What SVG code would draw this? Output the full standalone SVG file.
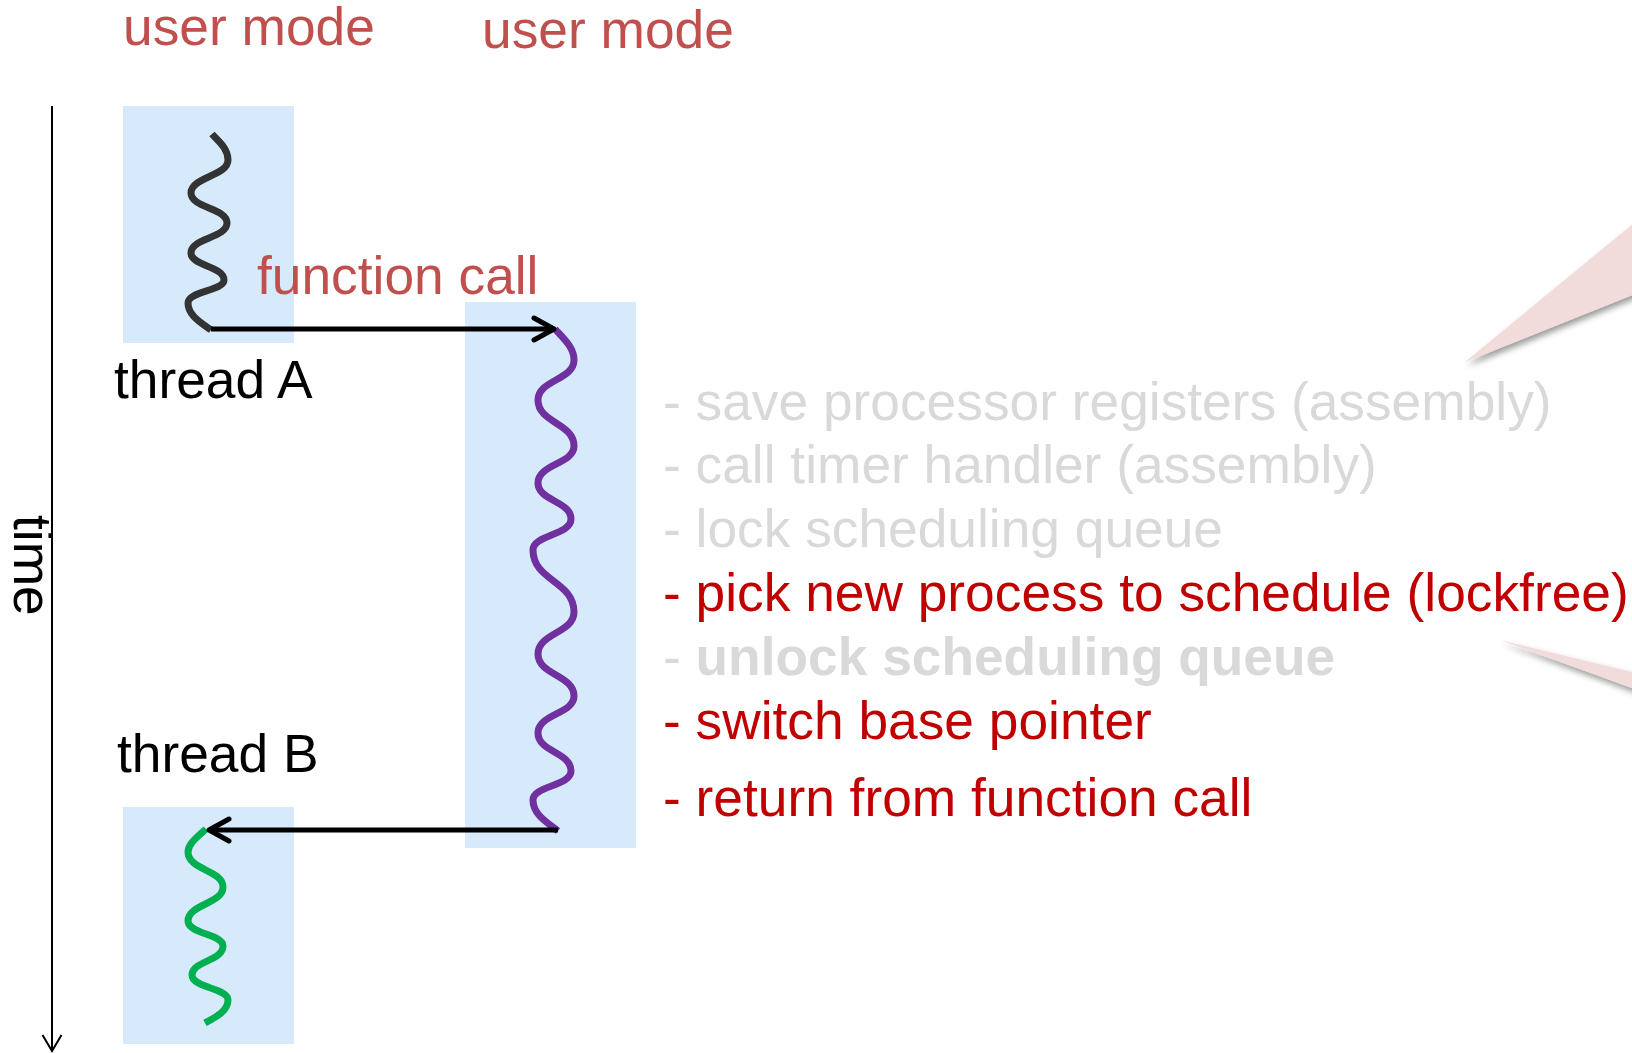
<svg xmlns="http://www.w3.org/2000/svg" width="1632" height="1053" viewBox="0 0 1632 1053">
  <defs>
    <style>
      text { font-family: "Liberation Sans", Arial, sans-serif; font-size: 53.3px; }
      .mode { fill: #C0504D; }
      .lbl { fill: #000000; }
      .gray { fill: #D9D9D9; }
      .red { fill: #C00000; }
      .bold { font-weight: bold; }
      .box { fill: #D6EAFB; }
      .wave { fill: none; stroke-width: 7; stroke-linecap: butt; stroke-linejoin: round; }
      .conn { fill: none; stroke: #000000; stroke-width: 5; }
      .callout { fill: #F2DCDB; filter: url(#shadow); }
    </style>
    <marker id="arrowOpen" viewBox="-26 -16 32 32" markerWidth="32" markerHeight="32" refX="0" refY="0" orient="auto" markerUnits="userSpaceOnUse">
      <path d="M-20,-11 L0,0 L-20,11" fill="none" stroke="#000000" stroke-width="5" stroke-linecap="round" stroke-linejoin="round"/>
    </marker>
    <marker id="arrowTime" viewBox="-20 -12 24 24" markerWidth="24" markerHeight="24" refX="0" refY="0" orient="auto" markerUnits="userSpaceOnUse">
      <path d="M-16,-9.5 L0,0 L-16,9.5" fill="none" stroke="#000000" stroke-width="2"/>
    </marker>
    <filter id="shadow" x="-20%" y="-20%" width="140%" height="160%">
      <feDropShadow dx="2" dy="4" stdDeviation="3" flood-color="#000000" flood-opacity="0.4"/>
    </filter>
  </defs>

  <rect width="1632" height="1053" fill="#FFFFFF"/>

  <!-- callout wedges -->
  <g id="callouts">
    <polygon class="callout" points="1465,362 1640,218 1640,292"/>
    <polygon class="callout" points="1500,640 1640,674 1640,691"/>
  </g>

  <!-- time axis -->
  <g id="time-axis">
    <line x1="52" y1="106" x2="52" y2="1051" stroke="#000000" stroke-width="2" marker-end="url(#arrowTime)"/>
    <text class="lbl" transform="translate(14,515) rotate(90)">time</text>
  </g>

  <!-- headers -->
  <g id="headers">
    <text class="mode" x="123" y="45">user mode</text>
    <text class="mode" x="482" y="48">user mode</text>
  </g>

  <!-- thread A -->
  <g id="threadA">
    <rect class="box" x="123" y="106" width="171" height="237"/>
    <path class="wave" stroke="#333333" d="M212,134 C218,141 228,148 228,160 C228,176 191,177 191,193 C191,208 227,208 227,223 C227,238 191,238 191,253 C191,266 224,266 224,280 C224,291 188,291 188,303 C188,315 200,322 211,330"/>
    <text class="lbl" x="114" y="398">thread A</text>
  </g>

  <!-- kernel / scheduler -->
  <g id="scheduler">
    <rect class="box" x="465" y="302" width="171" height="546"/>
    <path class="wave" stroke="#7030A0" stroke-width="6" d="M555,329 C565,340 574,348 574,360 C574,380 538,380 538,400 C538,423 574,423 574,446 C574,464 538,464 538,483 C538,501 571,501 571,519 C571,535 533,535 533,550 C533,581 574,581 574,612 C574,633 538,633 538,654 C538,675 574,675 574,696 C574,714 538,714 538,733 C538,752 571,752 571,771 C571,786 533,786 533,800 C533,815 548,823 558,831"/>
  </g>

  <!-- thread B -->
  <g id="threadB">
    <rect class="box" x="123" y="807" width="171" height="237"/>
    <path class="wave" stroke="#00B050" d="M206,829 C196,838 188,844 188,852 C188,870 223,870 223,887 C223,904 188,904 188,921 C188,934 223,934 223,946 C223,961 192,961 192,975 C192,988 228,988 228,1000 C228,1011 216,1017 205,1023"/>
    <text class="lbl" x="117" y="772">thread B</text>
  </g>

  <!-- connectors -->
  <g id="connectors">
    <line class="conn" x1="211" y1="329" x2="554" y2="329" marker-end="url(#arrowOpen)"/>
    <text class="mode" x="257" y="294">function call</text>
    <line class="conn" x1="558" y1="830" x2="209" y2="830" marker-end="url(#arrowOpen)"/>
  </g>

  <!-- steps list -->
  <g id="steps">
    <text class="gray" x="663" y="420">- save processor registers (assembly)</text>
    <text class="gray" x="663" y="483">- call timer handler (assembly)</text>
    <text class="gray" x="663" y="547">- lock scheduling queue</text>
    <text class="red" x="663" y="611">- pick new process to schedule (lockfree)</text>
    <text class="gray" x="663" y="675">- <tspan class="bold">unlock scheduling queue</tspan></text>
    <text class="red" x="663" y="739">- switch base pointer</text>
    <text class="red" x="663" y="816">- return from function call</text>
  </g>
</svg>
